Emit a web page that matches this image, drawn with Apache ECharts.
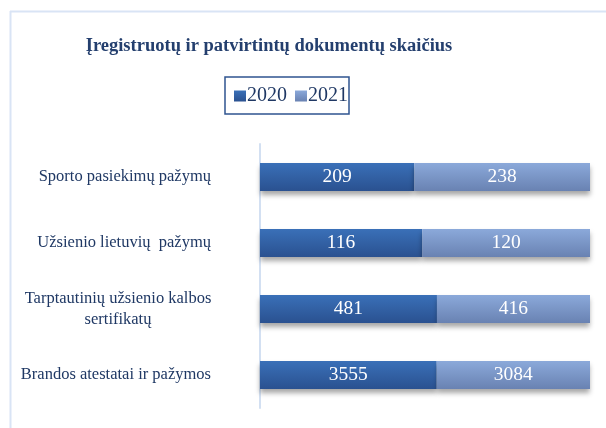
<!DOCTYPE html>
<html><head><meta charset="utf-8">
<script src="https://cdn.jsdelivr.net/npm/echarts@6/dist/echarts.min.js"></script>
<style>html,body{margin:0;padding:0;background:#fff}#c{width:606px;height:428px}</style>
</head><body><div id="c"></div>
<script>
const categories = ['Sporto pasiekimų pažymų', 'Užsienio lietuvių  pažymų', 'Tarptautinių užsienio kalbos\nsertifikatų', 'Brandos atestatai ir pažymos'];
const values2020 = [209, 116, 481, 3555];
const values2021 = [238, 120, 416, 3084];
const seriesNames = ['2020', '2021'];

const totals = values2020.map((v, i) => v + values2021[i]);
const share = (arr) => arr.map((v, i) => ({ value: v / totals[i], raw: v }));

const serif = '"Liberation Serif","Times New Roman",serif';
const grad = (a, b) => new echarts.graphic.LinearGradient(0, 0, 0, 1, [{ offset: 0, color: a }, { offset: 1, color: b }]);

const chart = echarts.init(document.getElementById('c'), null, { renderer: 'canvas' });
const barStyle = (c) => ({ color: c, shadowColor: 'rgba(0,0,0,0.35)', shadowBlur: 5, shadowOffsetY: 4 });
const lbl = { show: true, position: 'inside', color: '#fff', fontFamily: serif, fontSize: 19.5, formatter: p => p.data.raw };

chart.setOption({
  animation: false,
  title: {
    text: 'Įregistruotų ir patvirtintų dokumentų skaičius',
    left: 264, top: 32, textAlign: 'center',
    textStyle: { fontFamily: serif, fontSize: 18.5, fontWeight: 'bold', color: '#243f6e' }
  },
  legend: {
    data: seriesNames, left: 225, top: 77, icon: 'rect',
    itemWidth: 12, itemHeight: 11, itemGap: 8,
    padding: [9, 1, 8, 9],
    borderColor: '#2f5490', borderWidth: 1.5,
    textStyle: { fontFamily: serif, fontSize: 20, color: '#1f3864', padding: [0, 0, 0, -4] }
  },
  graphic: [
    { type: 'line', shape: { x1: 10, y1: 11.5, x2: 606, y2: 11.5 }, style: { stroke: '#d9e4f5', lineWidth: 2 } },
    { type: 'line', shape: { x1: 10.5, y1: 11, x2: 10.5, y2: 428 }, style: { stroke: '#d9e4f5', lineWidth: 2 } }
  ],
  grid: { left: 260, right: 16, top: 144, bottom: 20 },
  xAxis: { type: 'value', min: 0, max: 1, show: false },
  yAxis: {
    type: 'category', data: categories, inverse: true,
    axisLine: { lineStyle: { color: '#d3e0f2', width: 2 } },
    axisTick: { show: false },
    axisLabel: {
      margin: 49, fontFamily: serif, fontSize: 16.5, color: '#1f3864', align: 'right',
      formatter: v => v.indexOf('\n') >= 0 ? v.split('\n').map(s => '{c|' + s + '}').join('\n') : v,
      rich: { c: { align: 'center', width: 186, fontFamily: serif, fontSize: 16.5, color: '#1f3864', lineHeight: 21 } }
    }
  },
  series: [
    { name: seriesNames[0], type: 'bar', stack: 's', barWidth: 28, data: share(values2020),
      itemStyle: barStyle(grad('#3a70b8', '#2a5190')), label: lbl },
    { name: seriesNames[1], type: 'bar', stack: 's', barWidth: 28, data: share(values2021),
      itemStyle: barStyle(grad('#8ba9da', '#6982b2')), label: lbl }
  ]
});
</script></body></html>
